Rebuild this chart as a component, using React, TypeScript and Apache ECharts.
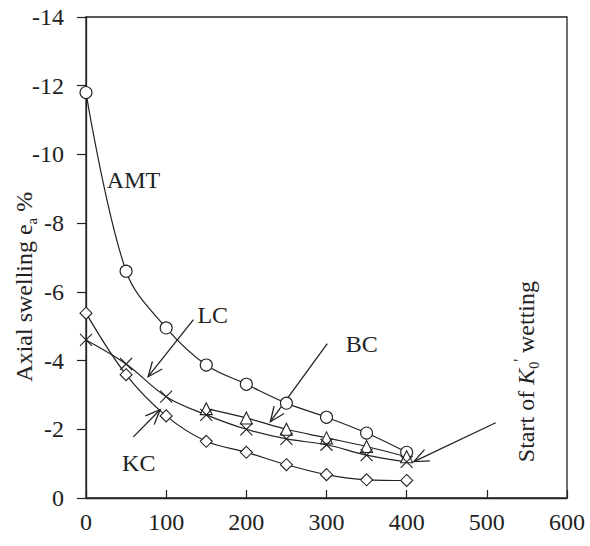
import React, { useEffect, useRef } from "react";
import * as echarts from "echarts";

const xValues = [0, 50, 100, 150, 200, 250, 300, 350, 400];
const amtValues = [-11.8, -6.6, -4.95, -3.87, -3.31, -2.76, -2.35, -1.89, -1.33];
const lcValues = [-4.6, -3.9, -2.95, -2.42, -2.0, -1.72, -1.55, -1.25, -1.05];
const kcValues = [-5.38, -3.59, -2.39, -1.65, -1.33, -0.97, -0.68, -0.53, -0.51];
const bcX = [150, 200, 250, 300, 350, 400];
const bcValues = [-2.6, -2.33, -2.0, -1.75, -1.5, -1.2];
const xTicks = [0, 100, 200, 300, 400, 500, 600];
const yTicks = [0, -2, -4, -6, -8, -10, -12, -14];

// annotation anchors in data coordinates
const labels = [
  { text: "AMT", at: [26, -9.26] },
  { text: "LC", at: [139, -5.34] },
  { text: "BC", at: [324, -4.47] },
  { text: "KC", at: [45, -1.03] },
];
const arrows = [
  { from: [134, -5.19], to: [77.5, -3.53] },
  { from: [301, -4.49], to: [230, -2.22] },
  { from: [59, -1.78], to: [92.5, -2.57] },
  { from: [511, -2.19], to: [409, -1.06] },
];
const wettingAt = [549, -3.68];
const yTitleAt = [-77, -6.15];

const FONT = "'Liberation Serif', 'Times New Roman', serif";
const INK = "#222";

const crossPath = "path://M0,0L10,10M10,0L0,10";

export default function App() {
  const ref = useRef<HTMLDivElement>(null);
  useEffect(() => {
    if (!ref.current) return;
    const chart = echarts.init(ref.current, null, { renderer: "svg" });
    const pair = (xs: number[], ys: number[]) => xs.map((x, i) => [x, ys[i]]);
    const lineBase = {
      type: "line",
      smooth: 0.35,
      lineStyle: { color: INK, width: 1.2 },
      itemStyle: { color: "#fff", borderColor: INK, borderWidth: 1.1 },
      symbolSize: 11,
      z: 3,
    };
    const option: any = {
      animation: false,
      backgroundColor: "#fff",
      grid: {
        left: 86,
        right: 23,
        top: 17,
        bottom: 48,
        show: true,
        borderColor: INK,
        borderWidth: 1.3,
      },
      xAxis: {
        type: "value",
        min: 0,
        max: 600,
        interval: 100,
        axisLine: { show: true, lineStyle: { color: INK, width: 1.3 } },
        axisTick: { show: true, inside: true, length: 8, lineStyle: { color: INK, width: 1.2 } },
        axisLabel: {
          margin: 12,
          fontFamily: FONT,
          fontSize: 24,
          color: INK,
          customValues: xTicks,
        },
        splitLine: { show: false },
      },
      yAxis: {
        type: "value",
        min: -14,
        max: 0,
        interval: 2,
        inverse: true,
        axisLine: { show: true, lineStyle: { color: INK, width: 1.3 } },
        axisTick: { show: true, inside: false, length: 9, lineStyle: { color: INK, width: 1.2 } },
        axisLabel: {
          margin: 22,
          fontFamily: FONT,
          fontSize: 24,
          color: INK,
          customValues: yTicks,
        },
        splitLine: { show: false },
      },
      series: [
        { ...lineBase, name: "AMT", symbol: "circle", symbolSize: 12, data: pair(xValues, amtValues) },
        { ...lineBase, name: "BC", symbol: "triangle", symbolSize: 12, data: pair(bcX, bcValues) },
        {
          ...lineBase,
          name: "LC",
          symbol: crossPath,
          symbolSize: 12,
          itemStyle: { color: "none", borderColor: INK, borderWidth: 1.1 },
          data: pair(xValues, lcValues),
        },
        { ...lineBase, name: "KC", symbol: "diamond", symbolSize: 12, data: pair(xValues, kcValues) },
      ],
    };
    chart.setOption(option);

    const px = (p: number[]) => chart.convertToPixel({ gridIndex: 0 }, p) as number[];
    const graphics: any[] = [];
    labels.forEach((l) => {
      const [x, y] = px(l.at);
      graphics.push({
        type: "text",
        x,
        y,
        style: { text: l.text, fontFamily: FONT, fontSize: 24, fill: INK, verticalAlign: "middle" },
      });
    });
    arrows.forEach((a) => {
      const [x1, y1] = px(a.from);
      const [x2, y2] = px(a.to);
      const ang = Math.atan2(y1 - y2, x1 - x2);
      const L = 16;
      const spread = 0.4;
      const b1 = [x2 + L * Math.cos(ang + spread), y2 + L * Math.sin(ang + spread)];
      const b2 = [x2 + L * Math.cos(ang - spread), y2 + L * Math.sin(ang - spread)];
      graphics.push({
        type: "line",
        shape: { x1, y1, x2, y2 },
        style: { stroke: INK, lineWidth: 1.3 },
      });
      graphics.push({
        type: "polyline",
        shape: { points: [b1, [x2, y2], b2] },
        style: { stroke: INK, lineWidth: 1.3, fill: "none" },
      });
    });
    const [tx, ty] = px(yTitleAt);
    graphics.push({
      type: "text",
      x: tx,
      y: ty,
      rotation: Math.PI / 2,
      style: {
        text: "{n|Axial swelling e}{sub|a}{n| %}",
        align: "center",
        verticalAlign: "middle",
        rich: {
          n: { fontFamily: FONT, fontSize: 24, fill: INK, lineHeight: 30 },
          sub: { fontFamily: FONT, fontSize: 15, fill: INK, lineHeight: 30, verticalAlign: "bottom", padding: [10, 0, 0, 0] },
        },
      },
    });
    const [wx, wy] = px(wettingAt);
    graphics.push({
      type: "text",
      x: wx,
      y: wy,
      rotation: Math.PI / 2,
      style: {
        text: "{n|Start of }{k|K}{s|0}{p|'}{n| wetting}",
        align: "center",
        verticalAlign: "middle",
        rich: {
          n: { fontFamily: FONT, fontSize: 24, fill: INK, lineHeight: 30 },
          k: { fontFamily: FONT, fontSize: 24, fontStyle: "italic", fill: INK, lineHeight: 30 },
          s: { fontFamily: FONT, fontSize: 14, fill: INK, lineHeight: 30, verticalAlign: "bottom", padding: [10, 0, 0, 0] },
          p: { fontFamily: FONT, fontSize: 16, fill: INK, lineHeight: 30, verticalAlign: "top", padding: [0, 0, 4, 0] },
        },
      },
    });
    chart.setOption({ graphic: graphics });
    return () => chart.dispose();
  }, []);
  return <div ref={ref} style={{ width: 590, height: 546, position: "absolute", left: 0, top: 0 }} />;
}
